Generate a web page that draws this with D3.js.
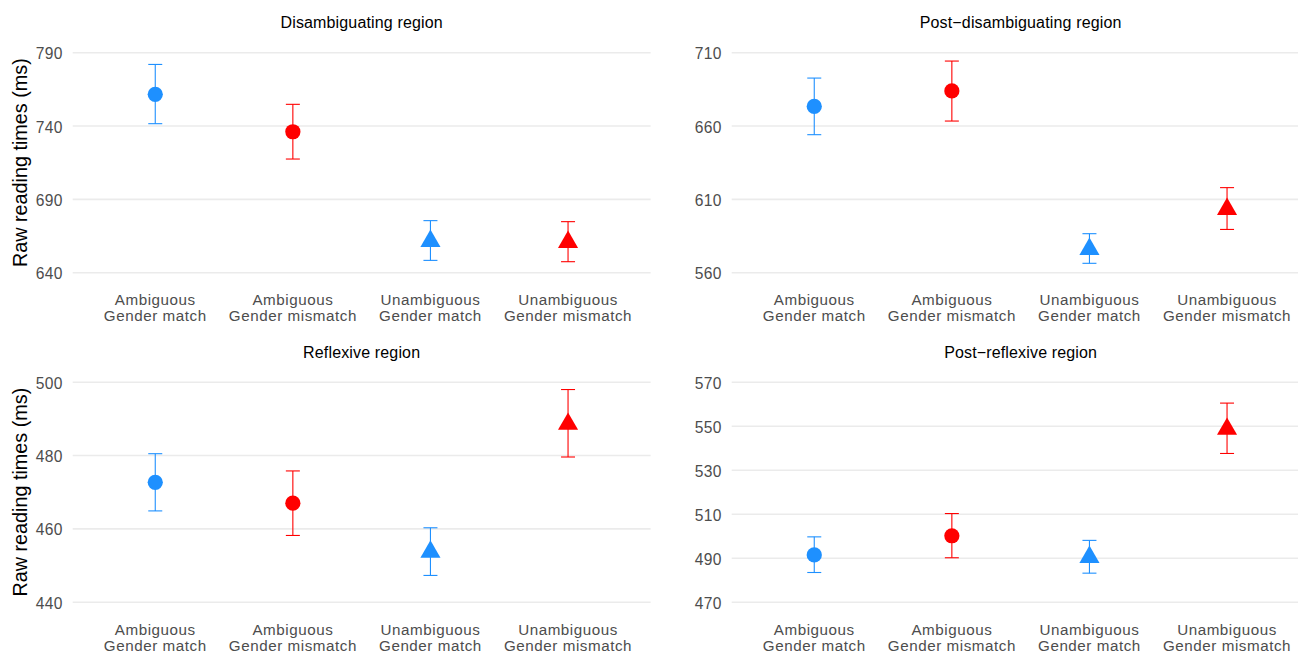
<!DOCTYPE html>
<html>
<head>
<meta charset="utf-8">
<script src="https://cdn.jsdelivr.net/npm/d3@7"></script>
<style>
  html, body { margin: 0; padding: 0; background: #ffffff; }
  svg { display: block; font-family: "Liberation Sans", Arial, Helvetica, sans-serif; }
</style>
</head>
<body>
<svg id="chart" width="1298" height="653"></svg>
<script>
// Conditions shown along each x axis (two-line labels)
const conditions = ["Ambiguous|Gender match", "Ambiguous|Gender mismatch", "Unambiguous|Gender match", "Unambiguous|Gender mismatch"];
const ambiguity = ["Ambiguous", "Ambiguous", "Unambiguous", "Unambiguous"];
const gender = ["match", "mismatch", "match", "mismatch"];

const regionTitles = ["Disambiguating region", "Post\u2212disambiguating region", "Reflexive region", "Post\u2212reflexive region"];

// Mean raw reading times (ms) with lower / upper error bounds, per region
const disambMean = [761.6, 736.1, 661.5, 660.8];
const disambLow  = [741.6, 717.5, 648.4, 647.5];
const disambHigh = [782.0, 754.8, 675.5, 674.8];

const postDisambMean = [673.4, 683.9, 576.1, 603.3];
const postDisambLow  = [654.1, 663.4, 566.4, 589.5];
const postDisambHigh = [692.7, 704.3, 586.6, 618.0];

const reflexMean = [472.7, 467.0, 453.7, 488.6];
const reflexLow  = [464.9, 458.2, 447.3, 479.6];
const reflexHigh = [480.5, 475.8, 460.3, 498.0];

const postReflexMean = [491.5, 500.2, 490.5, 548.7];
const postReflexLow  = [483.5, 490.2, 483.2, 537.6];
const postReflexHigh = [499.7, 510.3, 498.1, 560.5];

// Y-axis tick values per region
const disambTicks = [640, 690, 740, 790];
const postDisambTicks = [560, 610, 660, 710];
const reflexTicks = [440, 460, 480, 500];
const postReflexTicks = [470, 490, 510, 530, 550, 570];

const yTitle = "Raw reading times (ms)";

const genderColor = { match: "#1E90FF", mismatch: "#FF0000" };

const panels = [
  { title: regionTitles[0], mean: disambMean, low: disambLow, high: disambHigh, ticks: disambTicks, col: 0, row: 0 },
  { title: regionTitles[1], mean: postDisambMean, low: postDisambLow, high: postDisambHigh, ticks: postDisambTicks, col: 1, row: 0 },
  { title: regionTitles[2], mean: reflexMean, low: reflexLow, high: reflexHigh, ticks: reflexTicks, col: 0, row: 1 },
  { title: regionTitles[3], mean: postReflexMean, low: postReflexLow, high: postReflexHigh, ticks: postReflexTicks, col: 1, row: 1 }
];

const svg = d3.select("#chart");

// Panel frames (plot areas) by column and row
const colX = [[72.7, 650.6], [731.7, 1309.6]];
const rowY = [[52.7, 272.7], [382.2, 602.2]];

panels.forEach(p => {
  const [x0, x1] = colX[p.col];
  const [yTop, yBot] = rowY[p.row];

  const x = d3.scalePoint().domain(conditions).range([x0, x1]).padding(0.6);
  const y = d3.scaleLinear().domain([d3.min(p.ticks), d3.max(p.ticks)]).range([yBot, yTop]);

  const g = svg.append("g");

  // horizontal grid lines
  g.selectAll("line.grid").data(p.ticks).join("line")
    .attr("class", "grid")
    .attr("x1", x0).attr("x2", x1)
    .attr("y1", d => y(d)).attr("y2", d => y(d))
    .attr("stroke", "#EBEBEB").attr("stroke-width", 1.6);

  // y tick labels
  g.selectAll("text.ytick").data(p.ticks).join("text")
    .attr("class", "ytick")
    .attr("x", x0 - 10)
    .attr("y", d => y(d) + 6.6)
    .attr("text-anchor", "end")
    .attr("font-size", 15.6)
    .attr("letter-spacing", 0.3)
    .attr("fill", "#4D4D4D")
    .text(d => d);

  // x category labels (two lines)
  const xl = g.selectAll("text.xtick").data(conditions).join("text")
    .attr("class", "xtick")
    .attr("text-anchor", "middle")
    .attr("font-size", 15.2)
    .attr("letter-spacing", 0.55)
    .attr("fill", "#4D4D4D");
  xl.selectAll("tspan").data(d => d.split("|").map(s => ({ s, c: d }))).join("tspan")
    .attr("x", d => x(d.c))
    .attr("y", (d, i) => yBot + 32.5 + i * 16.2)
    .text(d => d.s);

  // panel title
  g.append("text")
    .attr("x", (x0 + x1) / 2)
    .attr("y", yTop - 24.3)
    .attr("text-anchor", "middle")
    .attr("font-size", 16)
    .attr("letter-spacing", 0.15)
    .attr("fill", "#000000")
    .text(p.title);

  const idx = d3.range(conditions.length);
  const capHalf = 7;

  // error bars
  const eb = g.selectAll("g.err").data(idx).join("g")
    .attr("class", "err")
    .attr("stroke", i => genderColor[gender[i]])
    .attr("stroke-width", 1.1);
  eb.append("line")
    .attr("x1", i => x(conditions[i])).attr("x2", i => x(conditions[i]))
    .attr("y1", i => y(p.low[i])).attr("y2", i => y(p.high[i]));
  eb.append("line")
    .attr("x1", i => x(conditions[i]) - capHalf).attr("x2", i => x(conditions[i]) + capHalf)
    .attr("y1", i => y(p.high[i])).attr("y2", i => y(p.high[i]));
  eb.append("line")
    .attr("x1", i => x(conditions[i]) - capHalf).attr("x2", i => x(conditions[i]) + capHalf)
    .attr("y1", i => y(p.low[i])).attr("y2", i => y(p.low[i]));

  // mean points: circle for ambiguous, triangle for unambiguous
  const sym = d3.symbol()
    .type(i => ambiguity[i] === "Ambiguous" ? d3.symbolCircle : d3.symbolTriangle)
    .size(i => ambiguity[i] === "Ambiguous" ? 182 : 175);
  g.selectAll("path.pt").data(idx).join("path")
    .attr("class", "pt")
    .attr("d", sym)
    .attr("transform", i => `translate(${x(conditions[i])},${y(p.mean[i])})`)
    .attr("fill", i => genderColor[gender[i]]);

  // y-axis title on left column only
  if (p.col === 0) {
    const cy = (yTop + yBot) / 2;
    g.append("text")
      .attr("transform", `translate(26.5,${cy}) rotate(-90)`)
      .attr("text-anchor", "middle")
      .attr("font-size", 19.8)
      .attr("fill", "#000000")
      .text(yTitle);
  }
});
</script>
</body>
</html>
